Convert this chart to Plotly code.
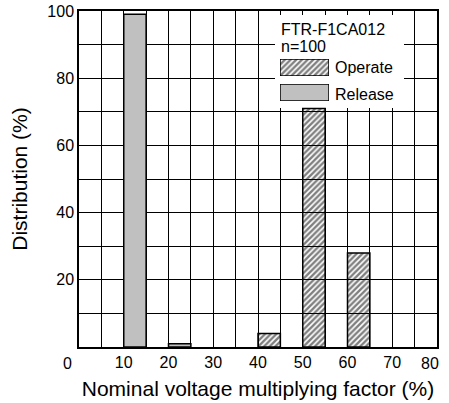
import plotly.graph_objects as go

# ---- data ----
release_x = [10, 20]
release_y = [99, 1]
operate_x = [40, 50, 60]
operate_y = [4, 71, 28]
bin_width = 5

x_grid = list(range(0, 85, 5))
x_labels = ["" if (v % 10 or v in (0, 80)) else str(v) for v in x_grid]
y_grid = list(range(0, 110, 10))
y_labels = ["" if (v % 20 or v == 0) else str(v) for v in y_grid]

model_text = "FTR-F1CA012"
n_text = "n=100"
series_names = ["Operate", "Release"]

FONT = "Liberation Sans, Arial, sans-serif"
RELEASE_COLOR = "#c0c0c0"
CLEAR = "rgba(0,0,0,0)"
HATCH = dict(shape="/", fgcolor="black", bgcolor=CLEAR, size=4, solidity=0.6)

W, H = 449, 403
L, R, T, B = 79, 437, 11, 347          # plot area, screen pixels
X_RANGE = [0, 80]
Y_RANGE = [0, 100]

def px(xp):
    return (xp - L) / (R - L)
def py(yp):
    return (B - yp) / (B - T)
def dx(xp):
    return X_RANGE[0] + px(xp) * (X_RANGE[1] - X_RANGE[0])
def dy(yp):
    return Y_RANGE[0] + py(yp) * (Y_RANGE[1] - Y_RANGE[0])

fig = go.Figure()

fig.add_trace(go.Bar(
    x=release_x, y=release_y, width=bin_width, offset=0,
    marker=dict(color=RELEASE_COLOR, line=dict(color="black", width=1.5)),
    name=series_names[1], showlegend=False,
))
fig.add_trace(go.Bar(
    x=operate_x, y=operate_y, width=bin_width, offset=0,
    marker=dict(color=CLEAR, line=dict(color="black", width=1.5), pattern=HATCH),
    name=series_names[0], showlegend=False,
))

# legend swatches: one full-size bar each on a tiny dedicated subplot
fig.add_trace(go.Bar(
    x=[0], y=[1], width=1, xaxis="x2", yaxis="y2",
    marker=dict(color=CLEAR, line=dict(color="black", width=1.5), pattern=HATCH),
    showlegend=False, hoverinfo="skip",
))
fig.add_trace(go.Bar(
    x=[0], y=[1], width=1, xaxis="x3", yaxis="y3",
    marker=dict(color=RELEASE_COLOR, line=dict(color="black", width=1.5)),
    showlegend=False, hoverinfo="skip",
))

def swatch_axes(name, x0, x1, y0, y1):
    xa = dict(domain=[px(x0), px(x1)], range=[-0.5, 0.5], visible=False,
              fixedrange=True, showgrid=False, zeroline=False, anchor="y" + name)
    ya = dict(domain=[py(y1), py(y0)], range=[0, 1], visible=False,
              fixedrange=True, showgrid=False, zeroline=False, anchor="x" + name)
    return xa, ya

x2, y2 = swatch_axes("2", 280, 329, 59, 76)
x3, y3 = swatch_axes("3", 280, 329, 84, 101)

def txt(text, xp, yp, anchor="left", size=16):
    return dict(x=px(xp), y=py(yp), xref="paper", yref="paper", text=text,
                showarrow=False, xanchor=anchor, yanchor="middle",
                font=dict(size=size, color="black", family=FONT))

annotations = [
    txt(model_text, 279, 29),
    txt(n_text, 279, 47),
    txt(series_names[0], 333, 68),
    txt(series_names[1], 333, 94),
    txt(str(x_grid[0]), 67, 363, "center"),
    txt(str(x_grid[-1]), 430, 363, "center"),
]

fig.update_layout(
    width=W, height=H,
    margin=dict(l=L, r=W - R, t=T, b=H - B),
    paper_bgcolor="white", plot_bgcolor="white",
    font=dict(family=FONT, size=16, color="black"),
    barmode="overlay",
    showlegend=False,
    xaxis=dict(
        domain=[0, 1], range=X_RANGE, tickmode="array", tickvals=x_grid, ticktext=x_labels,
        showgrid=True, gridcolor="black", gridwidth=1.3,
        showline=True, linecolor="black", linewidth=1.5, mirror=True,
        ticks="", zeroline=False, fixedrange=True, automargin=False,
        title=dict(text="Nominal voltage multiplying factor (%)",
                   font=dict(size=21, family=FONT), standoff=11),
        tickfont=dict(size=16, family=FONT),
    ),
    yaxis=dict(
        domain=[0, 1], range=Y_RANGE, tickmode="array", tickvals=y_grid, ticktext=y_labels,
        showgrid=True, gridcolor="black", gridwidth=1.3,
        showline=True, linecolor="black", linewidth=1.5, mirror=True,
        ticks="", zeroline=False, fixedrange=True, automargin=False,
        title=dict(text="Distribution (%)", font=dict(size=21, family=FONT),
                   standoff=14),
        tickfont=dict(size=16, family=FONT),
    ),
    xaxis2=x2, yaxis2=y2, xaxis3=x3, yaxis3=y3,
    shapes=[
        dict(type="rect", xref="x", yref="y",
             x0=dx(275), x1=dx(404), y0=dy(108), y1=dy(15),
             fillcolor="white", line=dict(width=0), layer="between"),
    ],
    annotations=annotations,
)

fig.write_html("out.html", config={"displayModeBar": False},
               post_script="document.body.style.margin='0';document.body.style.padding='0';")
